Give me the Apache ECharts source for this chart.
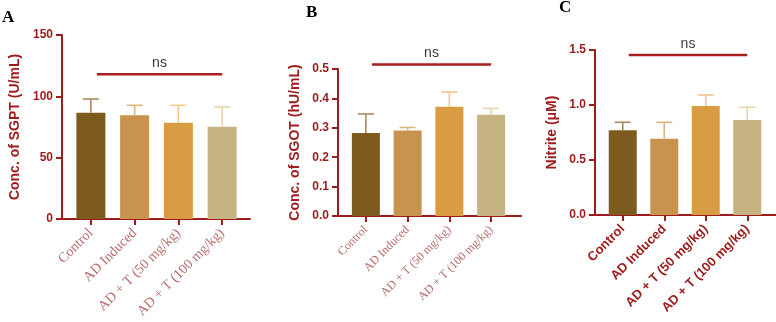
<!DOCTYPE html>
<html>
<head>
<meta charset="utf-8">
<script src="https://cdn.jsdelivr.net/npm/echarts@6/dist/echarts.min.js"></script>
<style>
  html, body { margin: 0; padding: 0; background: #fff; }
  #main { width: 776px; height: 322px; }
</style>
</head>
<body>
<div id="main"></div>
<script>
var categories = ['Control', 'AD Induced', 'AD + T (50 mg/kg)', 'AD + T (100 mg/kg)'];

var sgpt = [86.7, 84.5, 78.5, 75.2];
var sgptErr = [11.1, 8.2, 14.2, 16.1];
var sgot = [0.282, 0.291, 0.372, 0.344];
var sgotErr = [0.065, 0.010, 0.050, 0.022];
var nitrite = [0.77, 0.694, 0.991, 0.864];
var nitriteErr = [0.073, 0.149, 0.100, 0.115];

// ns bracket levels (value units)
var nsLevel = [118, 0.515, 1.455];

// y axis ranges [min, max, interval]
var sgptAxis = [0, 150, 50];
var sgotAxis = [0, 0.5, 0.1];
var nitriteAxis = [0, 1.5, 0.5];

var barColors = ['#7d5a1e', '#c8934f', '#d99c42', '#c5b482'];
var errColors = ['#a8885e', '#dcb580', '#f0c88e', '#e8d4ac'];
var red = '#9e1b1b';

var myChart = echarts.init(document.getElementById('main'));

// panel geometry: data grid + frame grid for the longer x axis line
var panels = [
    { left: 69, width: 175, top: 35, height: 184, frameLeft: 62, frameWidth: 188, barWidth: 29,
      name: 'Conc. of SGPT (U/mL)', nameGap: 40, axis: sgptAxis, fmt: function (v) { return v; },
      vals: sgpt, errs: sgptErr, ns: nsLevel[0],
      xLabel: { fontFamily: 'Liberation Serif', fontSize: 14, color: '#b86a6a', fontWeight: 'normal' } },
    { left: 345, width: 167, top: 69, height: 147, frameLeft: 338, frameWidth: 183, barWidth: 28,
      name: 'Conc. of SGOT (hU/mL)', nameGap: 36, axis: sgotAxis, fmt: function (v) { return v.toFixed(1); },
      vals: sgot, errs: sgotErr, ns: nsLevel[1],
      xLabel: { fontFamily: 'Liberation Serif', fontSize: 12, color: '#b86a6a', fontWeight: 'normal' } },
    { left: 602, width: 166, top: 50, height: 165, frameLeft: 595, frameWidth: 181, barWidth: 28,
      name: 'Nitrite (\u03bcM)', nameGap: 36, axis: nitriteAxis, fmt: function (v) { return v.toFixed(1); },
      vals: nitrite, errs: nitriteErr, ns: nsLevel[2],
      xLabel: { fontFamily: 'Liberation Sans', fontSize: 13, color: red, fontWeight: 'bold' } }
];

var grid = [], xAxis = [], yAxis = [], series = [];

panels.forEach(function (p, i) {
    grid.push({ left: p.left, width: p.width, top: p.top, height: p.height });
    xAxis.push({
        type: 'category', gridIndex: i, data: categories,
        axisLine: { show: true, lineStyle: { color: red, width: 2 } },
        axisTick: { show: true, alignWithLabel: true, length: 6, lineStyle: { color: red, width: 2 } },
        axisLabel: Object.assign({ rotate: 45, margin: 12, interval: 0 }, p.xLabel),
        splitLine: { show: false }
    });
    yAxis.push({
        type: 'value', gridIndex: i, offset: 7,
        min: p.axis[0], max: p.axis[1], interval: p.axis[2],
        name: p.name, nameLocation: 'middle', nameGap: p.nameGap,
        nameTextStyle: { fontFamily: 'Liberation Sans', fontSize: 14, fontWeight: 'bold', color: red },
        axisLine: { show: true, lineStyle: { color: red, width: 2 } },
        axisTick: { show: true, length: 6, lineStyle: { color: red, width: 2 } },
        axisLabel: { fontFamily: 'Liberation Sans', fontSize: 12, fontWeight: 'bold', color: red, margin: 9, formatter: p.fmt },
        splitLine: { show: false }
    });

    series.push({
        type: 'bar', xAxisIndex: i, yAxisIndex: i, barWidth: p.barWidth,
        data: p.vals.map(function (v, k) { return { value: v, itemStyle: { color: barColors[k] } }; })
    });
    series.push({
        type: 'custom', xAxisIndex: i, yAxisIndex: i, z: 3,
        encode: { x: 0, y: 1 },
        data: p.vals.map(function (v, k) { return [k, v, p.errs[k]]; }),
        renderItem: function (params, api) {
            var x = api.value(0), m = api.value(1), e = api.value(2);
            var a = api.coord([x, m]), b = api.coord([x, m + e]);
            var st = { stroke: errColors[params.dataIndex], lineWidth: 1.6 };
            return { type: 'group', children: [
                { type: 'line', shape: { x1: a[0], y1: a[1], x2: b[0], y2: b[1] }, style: st },
                { type: 'line', shape: { x1: b[0] - 8, y1: b[1], x2: b[0] + 8, y2: b[1] }, style: st }
            ] };
        }
    });
    series.push({
        type: 'custom', xAxisIndex: i, yAxisIndex: i, z: 3,
        encode: { x: 0, y: 1 },
        data: [[0, p.ns, 3]],
        renderItem: function (params, api) {
            var a = api.coord([api.value(0), api.value(1)]);
            var b = api.coord([api.value(2), api.value(1)]);
            var x1 = a[0] + 6;
            return { type: 'group', children: [
                { type: 'line', shape: { x1: x1, y1: a[1], x2: b[0], y2: b[1] },
                  style: { stroke: '#a82020', lineWidth: 2.5 } },
                { type: 'text', x: (x1 + b[0]) / 2, y: a[1] - 4,
                  style: { text: 'ns', fill: '#3a3a3a', font: '14px "Liberation Sans"', align: 'center', verticalAlign: 'bottom' } }
            ] };
        }
    });
});

// frame grids: only the longer x axis line
panels.forEach(function (p, i) {
    var g = 3 + i;
    grid.push({ left: p.frameLeft, width: p.frameWidth, top: p.top, height: p.height });
    xAxis.push({
        type: 'value', gridIndex: g, min: 0, max: 1, show: true,
        axisLine: { show: true, onZero: false, lineStyle: { color: red, width: 2 } },
        axisTick: { show: false }, axisLabel: { show: false }, splitLine: { show: false }
    });
    yAxis.push({ type: 'value', gridIndex: g, min: 0, max: 1, show: false });
});

option = {
    animation: false,
    backgroundColor: '#fff',
    grid: grid,
    xAxis: xAxis,
    yAxis: yAxis,
    series: series,
    graphic: [
        { type: 'text', left: 2, top: 9, style: { text: 'A', font: 'bold 17px "Liberation Serif"', fill: '#000' } },
        { type: 'text', left: 306, top: 4, style: { text: 'B', font: 'bold 17px "Liberation Serif"', fill: '#000' } },
        { type: 'text', left: 559, top: -1, style: { text: 'C', font: 'bold 17px "Liberation Serif"', fill: '#000' } }
    ]
};

myChart.setOption(option);
window.onresize = myChart.resize;
</script>
</body>
</html>
